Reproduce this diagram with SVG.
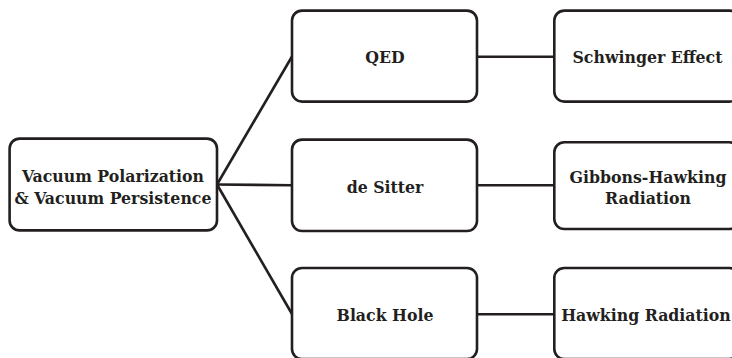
<svg xmlns="http://www.w3.org/2000/svg" width="732" height="358" viewBox="0 0 732 358">
<style>
.box{fill:#ffffff;stroke:#231f20;stroke-width:2.6}
.lbl{font-family:"DejaVu Serif Condensed","DejaVu Serif",serif;font-stretch:condensed;font-weight:bold;font-size:17.5px;fill:#231f20;text-anchor:middle}
.edge{stroke:#231f20;stroke-width:2.6;fill:none}
</style>
<rect width="732" height="358" fill="#ffffff"/>
<g id="connectors">
<line class="edge" x1="217" y1="184.5" x2="292" y2="56.5"/>
<line class="edge" x1="217" y1="184.5" x2="292" y2="185.3"/>
<line class="edge" x1="217" y1="184.5" x2="292" y2="314"/>
<line class="edge" x1="477" y1="56.7" x2="554" y2="56.7"/>
<line class="edge" x1="477" y1="185.3" x2="554" y2="185.3"/>
<line class="edge" x1="477" y1="314.3" x2="554" y2="314.3"/>
</g>
<g id="root">
<rect class="box" x="9.6" y="138.6" width="207.4" height="91.8" rx="10"/>
<text class="lbl" x="113" y="182">Vacuum Polarization</text>
<text class="lbl" x="113" y="204">&amp; Vacuum Persistence</text>
</g>
<g id="qed">
<rect class="box" x="292" y="10.6" width="185" height="91" rx="10"/>
<text class="lbl" x="385" y="62.5">QED</text>
</g>
<g id="desitter">
<rect class="box" x="292" y="139.6" width="185" height="91.4" rx="10"/>
<text class="lbl" x="385" y="192.5">de Sitter</text>
</g>
<g id="blackhole">
<rect class="box" x="292" y="268" width="185" height="91" rx="10"/>
<text class="lbl" x="385" y="320.7">Black Hole</text>
</g>
<g id="schwinger">
<rect class="box" x="554.3" y="10.6" width="185" height="91" rx="10"/>
<text class="lbl" x="647.5" y="62.5">Schwinger Effect</text>
</g>
<g id="gibbons">
<rect class="box" x="554.3" y="142.3" width="185" height="86.7" rx="10"/>
<text class="lbl" x="648" y="183.3">Gibbons-Hawking</text>
<text class="lbl" x="648" y="204.3">Radiation</text>
</g>
<g id="hawking">
<rect class="box" x="554.3" y="268" width="185" height="91" rx="10"/>
<text class="lbl" x="646" y="320.7">Hawking Radiation</text>
</g>
</svg>
